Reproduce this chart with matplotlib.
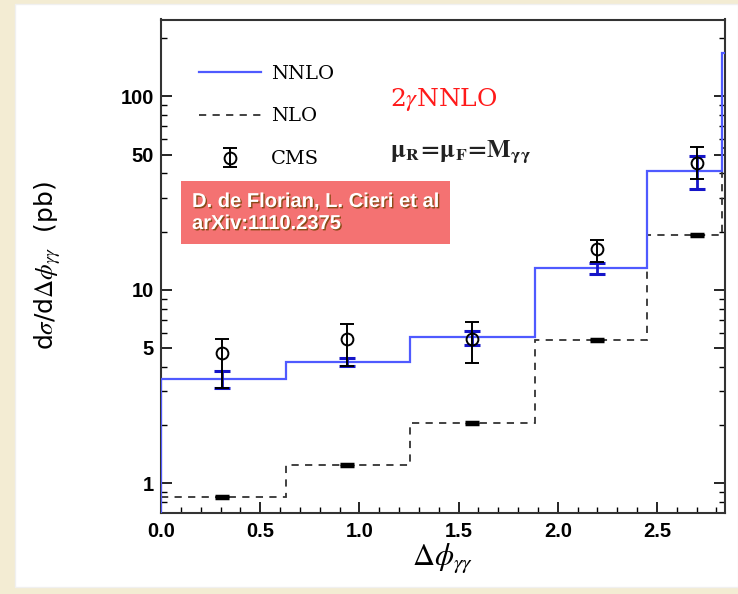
import matplotlib
matplotlib.use("Agg")
import matplotlib.pyplot as plt
import matplotlib.patheffects as pe
from matplotlib.patches import Rectangle
from matplotlib.lines import Line2D
from matplotlib.ticker import FixedLocator, LogLocator, NullFormatter, MultipleLocator
import numpy as np

plt.rcParams['mathtext.fontset'] = 'stix'

# bin edges in delta phi
edges = [0.0, 0.628, 1.257, 1.885, 2.45, 2.83, 3.14]
nnlo = [3.46, 4.25, 5.68, 12.97, 41.2, 167.0]
nlo = [0.85, 1.24, 2.05, 5.53, 19.3, 54.0]

# points (bin centres) with uncertainties
pt_x = [0.31, 0.94, 1.57, 2.20, 2.70]
nnlo_hi = [3.82, 4.42, 6.13, 13.8, 49.3]
nnlo_lo = [3.10, 4.03, 5.19, 12.1, 33.3]
nlo_pt = [0.85, 1.24, 2.05, 5.53, 19.3]
cms = [4.69, 5.54, 5.56, 16.2, 45.5]
cms_hi = [5.54, 6.63, 6.83, 18.2, 54.6]
cms_lo = [3.10, 4.03, 4.18, 13.9, 37.2]

yticks = [1, 5, 10, 50, 100]
xticks = [0.0, 0.5, 1.0, 1.5, 2.0, 2.5]

fig = plt.figure(figsize=(7.38, 5.94), dpi=100, facecolor='#f3ecd3')
fig.patches.append(Rectangle((15/738, 7/594), 723/738, 583/594, transform=fig.transFigure,
                             facecolor='white', edgecolor='#f0f0f0', zorder=-5))
ax = fig.add_axes([161/738, 81.5/594, 564/738, 493/594])
ax.set_zorder(1)

ax.stairs(nnlo, edges, baseline=0.01, color='#4f5aff', lw=1.6, zorder=3)
ax.stairs(nlo, edges, baseline=None, color='#333333', lw=1.3, ls=(0, (4, 3.5)), zorder=2)

mid = np.array(nnlo[:5])
ax.errorbar(pt_x, mid, yerr=[mid - np.array(nnlo_lo), np.array(nnlo_hi) - mid], fmt='none',
            ecolor='#1515c8', elinewidth=2.0, capsize=6, capthick=2.2, zorder=4)
nl = np.array(nlo_pt)
ax.errorbar(pt_x, nl, yerr=nl * 0.012, fmt='none', ecolor='black', elinewidth=2.5,
            capsize=5, capthick=2.5, zorder=4)
c = np.array(cms)
h_cms = ax.errorbar(pt_x, c, yerr=[c - np.array(cms_lo), np.array(cms_hi) - c], fmt='o',
                    color='black', mfc='none', ms=8.5, mew=1.4, elinewidth=1.4, capsize=5,
                    capthick=1.4, zorder=5)

ax.set_yscale('log')
ax.set_xlim(0, 2.843)
ax.set_ylim(0.705, 250)

ax.yaxis.set_major_locator(FixedLocator(yticks))
ax.set_yticklabels([str(v) for v in yticks])
ax.yaxis.set_minor_locator(LogLocator(base=10, subs=np.arange(2, 10)))
ax.yaxis.set_minor_formatter(NullFormatter())
ax.set_xticks(xticks)
ax.set_xticklabels([f"{v:.1f}" for v in xticks])
ax.xaxis.set_minor_locator(MultipleLocator(0.1))
ax.tick_params(which='both', direction='in', top=False, right=True)
ax.tick_params(which='major', length=8, width=1.2)
ax.tick_params(which='minor', length=4, width=1.0)
for lab in ax.get_xticklabels() + ax.get_yticklabels():
    lab.set_family('Liberation Sans')
    lab.set_fontweight('bold')
    lab.set_fontsize(14.5)
ax.tick_params(axis='x', pad=7)
ax.tick_params(axis='y', pad=5)
for s in ax.spines.values():
    s.set_linewidth(1.5)
    s.set_color('#333333')

ax.set_xlabel(r'$\Delta\phi_{\gamma\gamma}$', fontsize=22)
ax.xaxis.set_label_coords(0.5, -0.06)
ax.set_ylabel(r'd$\sigma$/d$\Delta\phi_{\gamma\gamma}$  (pb)', fontsize=18, family='DejaVu Sans')
ax.yaxis.set_label_coords(-0.174, 0.5)

h_nnlo = Line2D([], [], color='#4f5aff', lw=1.6)
h_nlo = Line2D([], [], color='#333333', lw=1.3, ls=(0, (4, 3.5)))
ax.legend([h_nnlo, h_nlo, h_cms], ['NNLO', 'NLO', 'CMS'], loc='upper left',
          bbox_to_anchor=(0.036, 0.944), frameon=False, handlelength=3.2, handletextpad=0.5,
          labelspacing=1.28, prop={'family': 'DejaVu Serif', 'size': 14})

ax.text(0.406, 0.837, r'2$\gamma$NNLO', transform=ax.transAxes, color='#ff1a1a',
        fontsize=18, family='DejaVu Serif', va='center')
ax.text(0.406, 0.731, r'$\mathbf{\mu_R\!=\!\mu_F\!=\!M_{\gamma\gamma}}$', transform=ax.transAxes,
        fontsize=18, color='#222222', va='center')

ax.text(0.055, 0.6085, 'D. de Florian, L. Cieri et al\narXiv:1110.2375', transform=ax.transAxes,
        color='white', fontsize=14.5, fontweight='bold', family='Liberation Sans',
        linespacing=1.2, va='center', ha='left', zorder=6,
        path_effects=[pe.withSimplePatchShadow(offset=(1, -1), shadow_rgbFace='#704000', alpha=0.8)],
        bbox=dict(boxstyle='square,pad=0.55', facecolor='#f47272', edgecolor='none'))

fig.savefig('out.png', dpi=100, facecolor=fig.get_facecolor())
